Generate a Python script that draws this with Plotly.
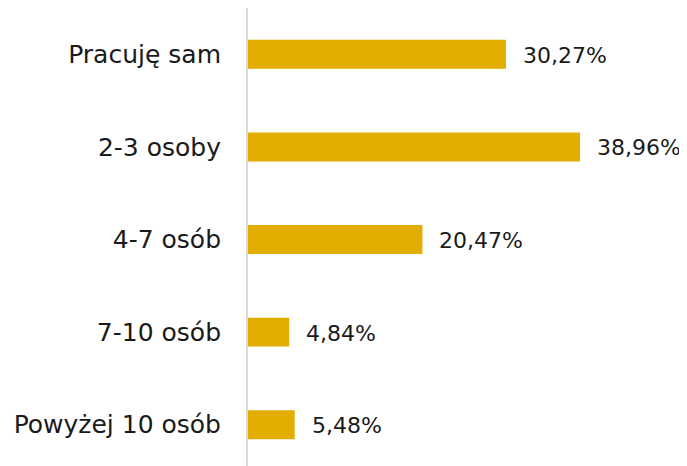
import plotly.graph_objects as go

categories = ["Pracuję sam", "2-3 osoby", "4-7 osób", "7-10 osób", "Powyżej 10 osób"]
values = [30.27, 38.96, 20.47, 4.84, 5.48]
labels = [f"{v:.2f}".replace(".", ",") + "%" for v in values]

BAR = "#E2AC00"
FONT = "DejaVu Sans"
FS_TICK = 25
FS_VAL = 22

fig = go.Figure()
fig.add_trace(go.Bar(
    x=values, y=categories, orientation="h",
    marker=dict(color=BAR, line=dict(width=0)),
    width=0.313, hoverinfo="skip",
))
for v, c, t in zip(values, categories, labels):
    fig.add_annotation(x=v, y=c, text=t, showarrow=False, xanchor="left",
                       xshift=15, yshift=-1, font=dict(family=FONT, size=FS_VAL, color="#1a1a1a"))

fig.update_layout(
    width=687, height=466,
    margin=dict(l=240, r=0, t=0, b=0, autoexpand=False),
    paper_bgcolor="white", plot_bgcolor="white",
    showlegend=False,
    font=dict(family=FONT, size=FS_TICK, color="#1a1a1a"),
)
fig.update_xaxes(range=[0, 52.46], visible=False, fixedrange=True, automargin=False)
fig.update_yaxes(
    type="category", categoryorder="array", categoryarray=categories,
    range=[4.532, -0.5], automargin=False,
    showline=True, linecolor="#d9d9d9", linewidth=2,
    showgrid=False, zeroline=False, ticks="", ticklabelstandoff=20,
    tickfont=dict(family=FONT, size=FS_TICK, color="#1a1a1a"),
)
fig.write_html("out.html")
